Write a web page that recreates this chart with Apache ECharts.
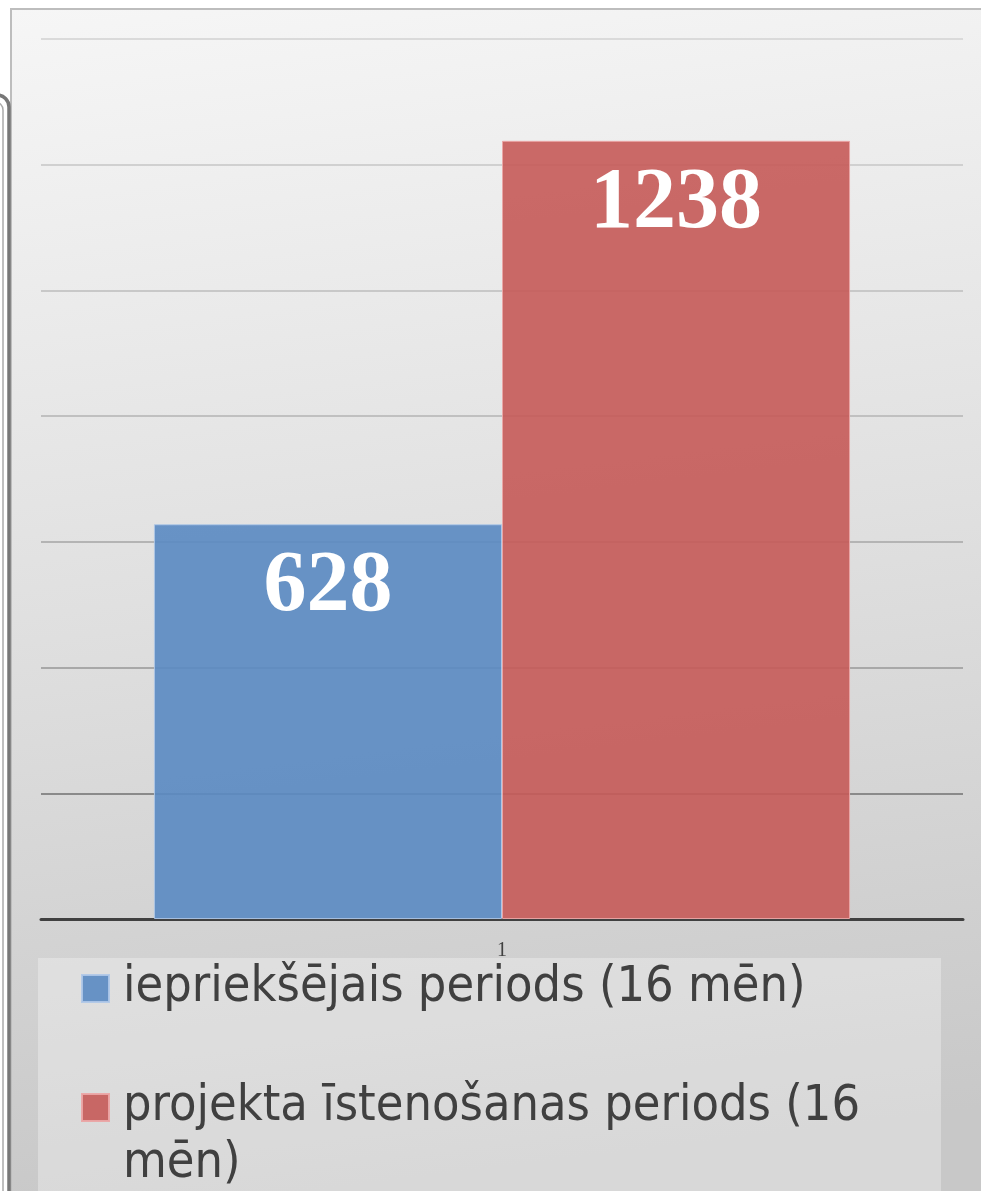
<!DOCTYPE html>
<html>
<head>
<meta charset="utf-8">
<script src="https://cdn.jsdelivr.net/npm/echarts@6/dist/echarts.min.js"></script>
<style>html,body{margin:0;padding:0;background:#fff;}#c{width:981px;height:1191px;}</style>
</head>
<body>
<div id="c"></div>
<script>
const categories = ['1'];
const seriesNames = ['iepriekšējais periods (16 mēn)', 'projekta īstenošanas periods (16 mēn)'];
const prevValues = [628];
const projValues = [1238];
const yTicks = [0, 200, 400, 600, 800, 1000, 1200, 1400];

const chart = echarts.init(document.getElementById('c'), null, {renderer: 'canvas'});
const legendFont = {fontFamily: 'DejaVu Sans Condensed', fontSize: 50, color: '#404040', lineHeight: 57, padding: [0, 0, 0, 9]};
const labelStyle = {show: true, position: 'insideTop', distance: 21, color: '#fff', fontFamily: 'Liberation Serif', fontWeight: 'bold', fontSize: 86};

chart.setOption({
  backgroundColor: '#ffffff',
  animation: false,
  graphic: {elements: [
    {type: 'rect', z: -100, shape: {x: 11, y: 9, width: 990, height: 1200},
      style: {fill: new echarts.graphic.LinearGradient(0, 0, 0.15, 1, [{offset: 0, color: '#f6f6f6'}, {offset: 0.5, color: '#e0e0e0'}, {offset: 1, color: '#c8c8c8'}]), stroke: '#bdbdbd', lineWidth: 2}},
    {type: 'rect', z: -90, shape: {x: -40, y: 95, width: 49, height: 1200, r: 12}, style: {fill: 'none', stroke: '#777777', lineWidth: 3.5}},
    {type: 'rect', z: -90, shape: {x: -40, y: 102, width: 43, height: 1200, r: 8}, style: {fill: 'none', stroke: '#aaaaaa', lineWidth: 1.5}},
    {type: 'rect', z: -80, shape: {x: 38, y: 958, width: 903, height: 260}, style: {fill: 'rgba(255,255,255,0.3)'}}
  ]},
  grid: {left: 41, right: 18, top: 39, bottom: 272, containLabel: false},
  xAxis: {
    type: 'category', data: categories,
    axisLine: {show: true, lineStyle: {color: '#404040', width: 3}},
    axisTick: {show: false},
    axisLabel: {margin: 22, color: '#404040', fontFamily: 'Liberation Serif', fontSize: 20}
  },
  yAxis: {
    type: 'value', min: yTicks[0], max: yTicks[yTicks.length - 1], interval: 200,
    axisLabel: {show: false}, axisLine: {show: false}, axisTick: {show: false},
    splitLine: {show: true, lineStyle: {width: 2, color: ['#888888', '#8a8a8a', '#a8a8a8', '#b4b4b4', '#c0c0c0', '#c8c8c8', '#d0d0d0', '#dadada']}}
  },
  legend: [
    {data: [seriesNames[0]], orient: 'vertical', left: 81, top: 960, padding: 0, icon: 'rect', itemWidth: 27, itemHeight: 27, textStyle: legendFont, selectedMode: false},
    {data: [seriesNames[1]], orient: 'vertical', left: 81, top: 1022, padding: 0, icon: 'rect', itemWidth: 27, itemHeight: 27, textStyle: legendFont, selectedMode: false,
      formatter: n => '\n' + n.replace('(16 ', '(16\n')}
  ],
  series: [
    {name: seriesNames[0], type: 'bar', data: prevValues, barGap: '0%', barCategoryGap: '24.5%',
      itemStyle: {color: 'rgba(90,137,194,0.9)', borderColor: 'rgba(175,200,232,0.9)', borderWidth: 1}, label: labelStyle},
    {name: seriesNames[1], type: 'bar', data: projValues, barGap: '0%', barCategoryGap: '24.5%',
      itemStyle: {color: 'rgba(197,90,88,0.9)', borderColor: 'rgba(235,165,165,0.95)', borderWidth: 1}, label: labelStyle}
  ]
});
</script>
</body>
</html>
